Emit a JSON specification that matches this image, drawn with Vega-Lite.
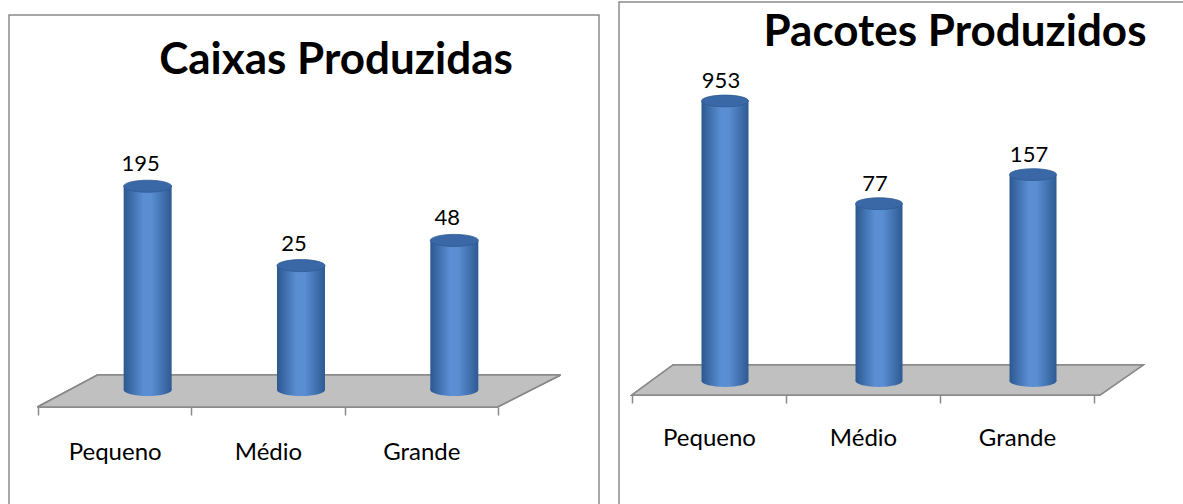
{
  "$schema": "https://vega.github.io/schema/vega-lite/v6.json",
  "padding": {"top": 1, "left": 8, "right": 0, "bottom": 0},
  "background": "#ffffff",
  "spacing": 18,
  "config": {
    "view": {"stroke": "#8c8c8c", "strokeWidth": 1.5},
    "axis": {"grid": false}
  },
  "datasets": {
    "caixas": [
      {"tamanho": "Pequeno", "qtd": 195},
      {"tamanho": "Médio", "qtd": 25},
      {"tamanho": "Grande", "qtd": 48}
    ],
    "pacotes": [
      {"tamanho": "Pequeno", "qtd": 953},
      {"tamanho": "Médio", "qtd": 77},
      {"tamanho": "Grande", "qtd": 157}
    ]
  },
  "hconcat": [
    {
      "vconcat": [
        {
          "width": 590,
          "height": 12,
          "data": {"values": []},
          "mark": "rect",
          "view": {"stroke": null}
        },
        {
          "width": 590,
          "height": 495,
          "data": {"name": "caixas"},
          "encoding": {
            "x": {
              "field": "tamanho", "type": "nominal", "sort": ["Pequeno", "Médio", "Grande"],
              "scale": {"paddingInner": 0, "paddingOuter": 0.4239, "align": 0.223},
              "axis": {"title": null, "domain": false, "tickBand": "extent", "tickSize": 8, "tickColor": "#8a8a8a", "tickWidth": 1.5, "labelFont": "Lato", "labelFontSize": 24, "labelColor": "#000000", "labelPadding": 44, "labelBaseline": "alphabetic", "labelAngle": 0, "offset": -103}
            }
          },
          "layer": [
            {
              "mark": {"type": "point", "filled": true, "opacity": 1, "shape": "M -1 0.0612 L 0.759 0.0612 L 1 -0.0612 L -0.7706 -0.0612 Z", "size": 273529, "xOffset": 31, "yOffset": 1, "fill": "#c0c0c0", "stroke": "#8a8a8a", "strokeWidth": 1.5},
              "encoding": {
                "x": {"datum": "Médio", "type": "nominal"},
                "y": {"datum": 1, "type": "quantitative", "scale": {"type": "log", "domain": [0.04487, 16355], "nice": false, "zero": false}, "axis": null}
              }
            },
            {
              "mark": {"type": "point", "filled": true, "opacity": 1, "shape": "M -1 0 C -1 -0.138 -0.5523 -0.25 0 -0.25 C 0.5523 -0.25 1 -0.138 1 0 C 1 0.138 0.5523 0.25 0 0.25 C -0.5523 0.25 -1 0.138 -1 0 Z", "size": 2304, "xOffset": 33, "strokeWidth": 0,
                "fill": {"gradient": "linear", "x1": 0, "y1": 0, "x2": 1, "y2": 0, "stops": [{"offset": 0, "color": "#2c5890"}, {"offset": 0.42, "color": "#5b8fd4"}, {"offset": 0.58, "color": "#5a8ed2"}, {"offset": 1, "color": "#2d5a93"}]}},
              "encoding": {
                "y": {"datum": 1, "type": "quantitative"}
              }
            },
            {
              "mark": {"type": "bar", "width": 48, "xOffset": 33,
                "fill": {"gradient": "linear", "x1": 0, "y1": 0, "x2": 1, "y2": 0, "stops": [{"offset": 0, "color": "#2c5890"}, {"offset": 0.42, "color": "#5b8fd4"}, {"offset": 0.58, "color": "#5a8ed2"}, {"offset": 1, "color": "#2d5a93"}]}},
              "encoding": {
                "y": {"field": "qtd", "type": "quantitative"},
                "y2": {"datum": 1}
              }
            },
            {
              "mark": {"type": "point", "filled": true, "opacity": 1, "shape": "M -1 0 C -1 -0.138 -0.5523 -0.25 0 -0.25 C 0.5523 -0.25 1 -0.138 1 0 C 1 0.138 0.5523 0.25 0 0.25 C -0.5523 0.25 -1 0.138 -1 0 Z", "size": 2304, "xOffset": 33, "fill": "#3a68a6", "stroke": "#2f5a93", "strokeWidth": 0.8},
              "encoding": {
                "y": {"field": "qtd", "type": "quantitative"}
              }
            },
            {
              "mark": {"type": "text", "font": "Lato", "fontSize": 22, "color": "#000000", "baseline": "alphabetic", "dy": -15, "xOffset": 26},
              "encoding": {
                "y": {"field": "qtd", "type": "quantitative"},
                "text": {"field": "qtd", "type": "quantitative"}
              }
            },
            {
              "data": {"values": [{"titulo": "Caixas Produzidas"}]},
              "mark": {"type": "text", "font": "Lato", "fontSize": 44, "fontWeight": "bold", "color": "#000000", "baseline": "alphabetic", "align": "center", "xOffset": 68},
              "encoding": {
                "x": {"datum": "Médio", "type": "nominal"},
                "y": {"datum": 3553, "type": "quantitative"},
                "text": {"field": "titulo", "type": "nominal"}
              }
            }
          ]
        }
      ],
      "spacing": 0
    },
    {
      "width": 570,
      "height": 507,
      "data": {"name": "pacotes"},
      "encoding": {
        "x": {
          "field": "tamanho", "type": "nominal", "sort": ["Pequeno", "Médio", "Grande"],
          "scale": {"paddingInner": 0, "paddingOuter": 0.3506, "align": 0.1204},
          "axis": {"title": null, "domain": false, "tickBand": "extent", "tickSize": 8, "tickColor": "#8a8a8a", "tickWidth": 1.5, "labelFont": "Lato", "labelFontSize": 24, "labelColor": "#000000", "labelPadding": 42, "labelBaseline": "alphabetic", "labelAngle": 0, "offset": -114}
        }
      },
      "layer": [
        {
          "mark": {"type": "point", "filled": true, "opacity": 1, "shape": "M -1 0.0587 L 0.8317 0.0587 L 1 -0.0587 L -0.8395 -0.0587 Z", "size": 261121, "xOffset": 24.5, "yOffset": -1, "fill": "#c0c0c0", "stroke": "#8a8a8a", "strokeWidth": 1.5},
          "encoding": {
            "x": {"datum": "Médio", "type": "nominal"},
            "y": {"datum": 1, "type": "quantitative", "scale": {"type": "log", "domain": [0.04348, 10766], "nice": false, "zero": false}, "axis": null}
          }
        },
        {
          "mark": {"type": "point", "filled": true, "opacity": 1, "shape": "M -1 0 C -1 -0.138 -0.5523 -0.25 0 -0.25 C 0.5523 -0.25 1 -0.138 1 0 C 1 0.138 0.5523 0.25 0 0.25 C -0.5523 0.25 -1 0.138 -1 0 Z", "size": 2209, "xOffset": 16, "strokeWidth": 0,
            "fill": {"gradient": "linear", "x1": 0, "y1": 0, "x2": 1, "y2": 0, "stops": [{"offset": 0, "color": "#2c5890"}, {"offset": 0.42, "color": "#5b8fd4"}, {"offset": 0.58, "color": "#5a8ed2"}, {"offset": 1, "color": "#2d5a93"}]}},
          "encoding": {
            "y": {"datum": 1, "type": "quantitative"}
          }
        },
        {
          "mark": {"type": "bar", "width": 47, "xOffset": 16,
            "fill": {"gradient": "linear", "x1": 0, "y1": 0, "x2": 1, "y2": 0, "stops": [{"offset": 0, "color": "#2c5890"}, {"offset": 0.42, "color": "#5b8fd4"}, {"offset": 0.58, "color": "#5a8ed2"}, {"offset": 1, "color": "#2d5a93"}]}},
          "encoding": {
            "y": {"field": "qtd", "type": "quantitative"},
            "y2": {"datum": 1}
          }
        },
        {
          "mark": {"type": "point", "filled": true, "opacity": 1, "shape": "M -1 0 C -1 -0.138 -0.5523 -0.25 0 -0.25 C 0.5523 -0.25 1 -0.138 1 0 C 1 0.138 0.5523 0.25 0 0.25 C -0.5523 0.25 -1 0.138 -1 0 Z", "size": 2209, "xOffset": 16, "fill": "#3a68a6", "stroke": "#2f5a93", "strokeWidth": 0.8},
          "encoding": {
            "y": {"field": "qtd", "type": "quantitative"}
          }
        },
        {
          "mark": {"type": "text", "font": "Lato", "fontSize": 22, "color": "#000000", "baseline": "alphabetic", "dy": -13, "xOffset": 12},
          "encoding": {
            "y": {"field": "qtd", "type": "quantitative"},
            "text": {"field": "qtd", "type": "quantitative"}
          }
        },
        {
          "data": {"values": [{"titulo": "Pacotes Produzidos"}]},
          "mark": {"type": "text", "font": "Lato", "fontSize": 44, "fontWeight": "bold", "color": "#000000", "baseline": "alphabetic", "align": "center", "xOffset": 92},
          "encoding": {
            "x": {"datum": "Médio", "type": "nominal"},
            "y": {"datum": 3663, "type": "quantitative"},
            "text": {"field": "titulo", "type": "nominal"}
          }
        }
      ]
    }
  ]
}
